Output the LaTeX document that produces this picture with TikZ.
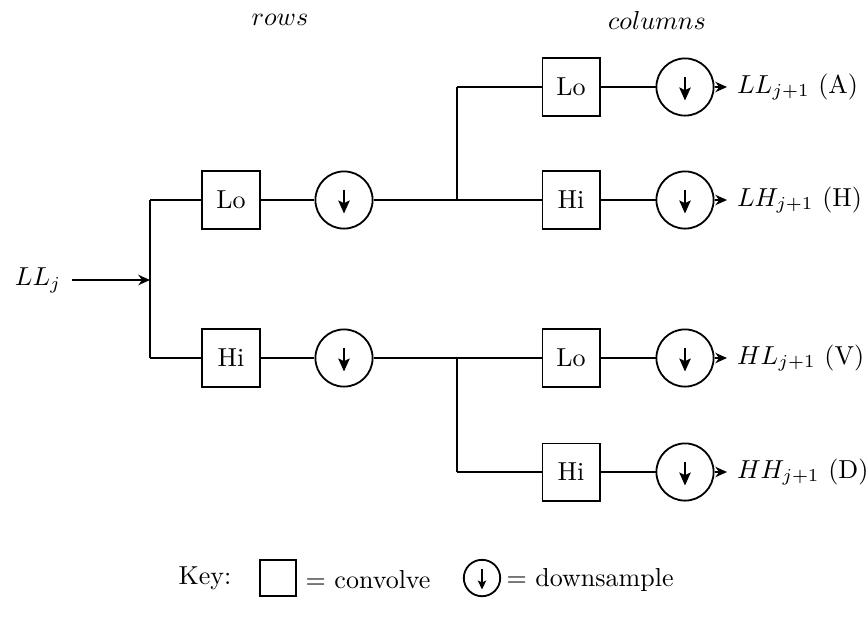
\documentclass[tikz,border=0pt]{standalone}
\usetikzlibrary{arrows.meta}
\begin{document}
\begin{tikzpicture}[x=0.3846pt,y=-0.3846pt,
  line width=0.7pt,
  filt/.style={draw,line width=0.7pt,minimum width=22pt,minimum height=22pt,inner sep=0pt},
  down/.style={draw,circle,line width=0.7pt,minimum size=22pt,inner sep=0pt,
    path picture={\draw[line width=0.75pt,-{Stealth[length=5pt,width=4.4pt,inset=1pt]}]
      ([yshift=4pt]path picture bounding box.center) -- ([yshift=-5.2pt]path picture bounding box.center);}},
  kdownst/.style={draw,circle,line width=0.7pt,minimum size=14pt,inner sep=0pt,
    path picture={\draw[line width=0.7pt,-{Stealth[length=3.4pt,width=3.2pt,inset=0.7pt]}]
      ([yshift=3.4pt]path picture bounding box.center) -- ([yshift=-4.4pt]path picture bounding box.center);}},
  lbl/.style={anchor=west,inner sep=3.5pt},
  arr/.style={-{Stealth[length=4.5pt,width=4pt]}}]
\useasboundingbox (0,0) rectangle (868,626);
% titles
\node (rows) at (280,20) {$rows$};
\node (cols) at (657,20) {$columns$};
% input
\node (in) at (38,280) {$LL_j$};
\coordinate (inS) at (72,280);
\coordinate (split) at (150,280);
\coordinate (sTop) at (150,200);
\coordinate (sBot) at (150,358);
\draw[arr] (inS) -- (split);
\draw (sTop) -- (sBot);
% row filters
\node[filt] (rLo) at (231,200) {Lo};
\node[down] (rLoD) at (344,200) {};
\node[filt] (rHi) at (231,358) {Hi};
\node[down] (rHiD) at (344,358) {};
\coordinate (jTop) at (457,200);
\coordinate (jTopU) at (457,87);
\coordinate (jBot) at (457,358);
\coordinate (jBotD) at (457,472);
\draw (sTop) -- (rLo) -- (rLoD) -- (jTop);
\draw (sBot) -- (rHi) -- (rHiD) -- (jBot);
\draw (jTop) -- (jTopU);
\draw (jBot) -- (jBotD);
% column filters
\node[filt] (cLL) at (571,87) {Lo};
\node[down] (cLLD) at (685,87) {};
\node[filt] (cLH) at (571,200) {Hi};
\node[down] (cLHD) at (685,200) {};
\node[filt] (cHL) at (571,358) {Lo};
\node[down] (cHLD) at (685,358) {};
\node[filt] (cHH) at (571,472) {Hi};
\node[down] (cHHD) at (685,472) {};
\draw (jTopU) -- (cLL) -- (cLLD);
\draw (jTop) -- (cLH) -- (cLHD);
\draw (jBot) -- (cHL) -- (cHLD);
\draw (jBotD) -- (cHH) -- (cHHD);
% outputs
\node[lbl] (oA) at (727,87) {$LL_{j+1}$ (A)};
\node[lbl] (oH) at (727,200) {$LH_{j+1}$ (H)};
\node[lbl] (oV) at (727,358) {$HL_{j+1}$ (V)};
\node[lbl] (oD) at (727,472) {$HH_{j+1}$ (D)};
\draw[arr] (cLLD.east) -- (oA.west);
\draw[arr] (cLHD.east) -- (oH.west);
\draw[arr] (cHLD.east) -- (oV.west);
\draw[arr] (cHHD.east) -- (oD.west);
% key
\node (key) at (205,578) {Key:};
\node[filt,minimum width=14pt,minimum height=14pt] (kbox) at (278,578) {};
\node[anchor=west] (kconv) at (296,580) {$=$ convolve};
\node[kdownst] (kcirc) at (482,578) {};
\node[anchor=west] (kdown) at (497,580) {$=$ downsample};
\end{tikzpicture}
\end{document}
